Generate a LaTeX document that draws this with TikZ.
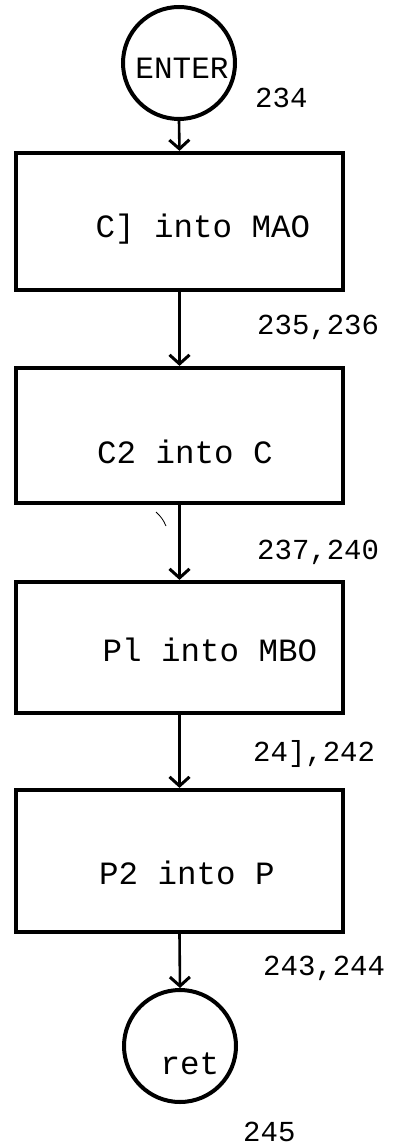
\documentclass[tikz,border=0pt]{standalone}
\usepackage{fontspec}
\setmonofont{Liberation Mono}
\usetikzlibrary{arrows.meta}
\begin{document}
\begin{tikzpicture}[x=1pt,y=-1pt,
  box/.style={draw,line width=4.2pt,rectangle,inner sep=0pt,minimum width=327pt},
  term/.style={draw,circle,line width=4pt,minimum size=112pt,inner sep=0pt},
  txt/.style={font=\ttfamily\fontsize{32.5}{32.5}\selectfont,inner sep=0pt},
  num/.style={font=\ttfamily\fontsize{29}{29}\selectfont,inner sep=0pt,anchor=west},
  flow/.style={line width=2.6pt,-{Straight Barb[length=9pt,width=20pt,line width=3pt]}}]
\useasboundingbox (0,0) rectangle (399,1147);
% terminals
\node[term] (enter) at (179,63) {};
\node[txt,font=\ttfamily\fontsize{31}{31}\selectfont] (enterT) at (182,68) {ENTER};
\node[term] (ret) at (180,1046) {};
\node[txt] (retT) at (190,1064) {ret};
% boxes
\node[box,minimum height=137pt] (b1) at (179.5,221.5) {};
\node[box,minimum height=135pt] (b2) at (179.5,435.5) {};
\node[box,minimum height=131pt] (b3) at (179.5,647.5) {};
\node[box,minimum height=142pt] (b4) at (179.5,861) {};
\node[txt] (t1) at (203,229) {C] into MAO};
\node[txt] (t2) at (185,452) {C2 into C};
\node[txt] (t3) at (210,650) {Pl into MBO};
\node[txt] (t4) at (187,873) {P2 into P};
% connectors
\draw[flow] (enter.south) -- (b1.north);
\draw[flow] (b1.south) -- (b2.north);
\draw[flow] (b2.south) -- (b3.north);
\draw[flow] (b3.south) -- (b4.north);
\draw[flow] (b4.south) -- (ret.north);
% numbers
\node[num] (n1) at (255,98) {234};
\node[num] (n2) at (257,327) {235,236};
\node[num] (n3) at (257,552) {237,240};
\node[num] (n4) at (253,754) {24],242};
\node[num] (n5) at (263,968) {243,244};
\node[num] (n6) at (243,1132) {245};
% stray mark
\draw[line width=0.8pt] (156,512) to[bend left=12] (166,526);
\end{tikzpicture}
\end{document}
